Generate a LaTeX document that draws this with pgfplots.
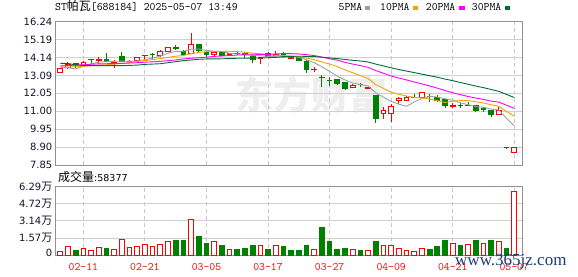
\documentclass[border=0pt]{standalone}
\usepackage{pgfplots}
\usepackage{pgfplotstable}
\pgfplotsset{compat=1.18}
\usepackage{fontspec}
\setmainfont{DejaVu Sans}
\newfontfamily\cjk{Noto Sans CJK SC}
\newfontfamily\lserif{Liberation Serif}
\definecolor{kred}{RGB}{255,0,0}
\definecolor{kgreen}{RGB}{0,128,0}
\definecolor{maA}{RGB}{160,160,160}
\definecolor{maB}{RGB}{240,165,0}
\definecolor{maC}{RGB}{255,0,255}
\definecolor{maD}{RGB}{0,110,50}
\definecolor{gridc}{RGB}{208,208,208}
\definecolor{vgridc}{RGB}{200,200,200}
\definecolor{framec}{RGB}{145,145,145}
\definecolor{tickc}{RGB}{20,20,40}
\definecolor{wm}{RGB}{238,238,238}
\definecolor{wmblue}{RGB}{30,60,120}
% candles: index, open, high, low, close
\pgfplotstableread{
i O H L C
0 13.25 13.52 13.22 13.50
1 13.55 13.90 13.47 13.75
3 13.66 13.95 13.60 13.86
5 13.94 14.15 13.76 14.01
7 13.82 14.00 13.55 13.85
9 13.90 14.00 13.80 13.93
10 13.96 14.17 13.93 14.13
11 14.25 14.28 14.00 14.27
13 14.25 14.60 14.15 14.52
14 14.48 14.78 14.45 14.72
17 14.39 15.60 14.37 14.88
20 14.30 14.52 14.25 14.43
22 14.33 14.43 14.26 14.36
26 14.06 14.15 13.78 14.13
28 14.28 14.52 14.17 14.31
30 14.10 14.17 14.05 14.13
33 13.44 13.57 13.31 13.46
38 12.38 12.60 12.33 12.53
40 12.33 12.42 12.30 12.40
42 10.85 11.23 10.52 11.07
43 10.88 11.40 10.38 11.30
44 11.60 11.85 11.42 11.75
45 11.62 11.87 11.58 11.80
47 11.81 12.13 11.75 12.08
51 11.30 11.46 11.17 11.33
57 10.82 11.23 10.78 11.07
59 8.60 8.89 8.59 8.89
}\redK
\pgfplotstableread{
i O H L C
2 13.78 13.85 13.55 13.74
4 14.02 14.03 13.75 14.00
6 14.04 14.39 13.88 13.90
8 14.18 14.48 13.88 13.90
12 14.33 14.40 14.08 14.30
15 14.75 14.88 14.56 14.68
16 14.52 14.58 14.25 14.34
18 14.88 14.90 14.45 14.58
19 14.43 14.55 14.20 14.33
21 14.48 14.50 14.22 14.25
23 14.40 14.48 14.27 14.37
24 14.38 14.45 14.10 14.33
25 14.18 14.22 13.84 14.00
27 14.39 14.45 14.10 14.20
29 14.40 14.45 14.10 14.20
31 14.15 14.17 13.95 13.98
32 13.90 14.00 13.25 13.45
34 13.00 13.10 12.40 12.97
35 12.82 13.02 12.49 12.78
36 12.84 12.85 12.55 12.60
37 12.68 12.70 12.24 12.35
39 12.57 12.65 12.43 12.54
41 11.89 11.92 10.32 10.55
46 11.83 12.00 11.79 11.80
48 11.88 12.00 11.56 11.85
49 11.80 11.95 11.56 11.60
50 11.66 11.70 11.20 11.33
52 11.36 11.50 11.20 11.33
53 11.34 11.55 11.30 11.31
54 11.36 11.38 10.93 11.07
55 11.13 11.25 10.98 11.10
56 11.03 11.05 10.68 10.78
58 8.87 8.87 8.85 8.85
}\greenK
\pgfplotsset{kaxis/.style={
  scale only axis, width=466.8pt, xmin=-0.62, xmax=60.04,
  axis line style={draw=framec, line width=1pt},
  major tick length=0pt,
  xtick={3,11,19,27,35,43,51,59},
  xmajorgrids, ymajorgrids,
  x grid style={draw=vgridc, dash pattern=on 4pt off 3pt, line width=0.9pt},
  y grid style={draw=gridc, line width=0.9pt},
  yticklabel style={font=\fontsize{10}{12}\selectfont, text=tickc, anchor=base east,
    inner sep=0pt, xshift=-3pt, yshift=-3.65pt},
},
ovl/.style={scale only axis, width=466.8pt, height=143.3pt, at={(55.5pt,111pt)},
  anchor=south west, xmin=-0.62, xmax=60.04, ymin=7.85, ymax=16.24, hide axis}}
\begin{document}
\begin{tikzpicture}
\path[use as bounding box] (0,0) rectangle (578pt,276pt);
\node[anchor=west, inner sep=0pt, text=wm, font=\cjk\bfseries\fontsize{38}{38}\selectfont] at (235pt,181pt) {东方财富};

% price panel: frame, grid, wicks
\begin{axis}[kaxis, at={(55.5pt,111pt)}, anchor=south west, height=143.3pt,
  ymin=7.85, ymax=16.24, xticklabels={},
  ytick={7.85,8.90,9.95,11.00,12.05,13.09,14.14,15.19,16.24},
  yticklabels={7.85,8.90,9.95,11.00,12.05,13.09,14.14,15.19,16.24}]
\addplot[draw=none, mark=none, error bars/.cd, y dir=plus, y explicit, error mark=none,
  error bar style={draw=kred, line width=1pt}]
  table[x=i, y=L, y error expr=\thisrow{H}-\thisrow{L}] {\redK};
\addplot[draw=none, mark=none, error bars/.cd, y dir=plus, y explicit, error mark=none,
  error bar style={draw=kgreen, line width=1pt}]
  table[x=i, y=L, y error expr=\thisrow{H}-\thisrow{L}] {\greenK};
\end{axis}
% red (hollow) bodies
\begin{axis}[ovl, ybar stacked, bar width=4.7pt]
\addplot[draw=none, fill=none] table[x=i, y=O] {\redK};
\addplot[draw=kred, fill=white, line width=1pt] table[x=i, y expr=\thisrow{C}-\thisrow{O}] {\redK};
\end{axis}
% green (filled) bodies
\begin{axis}[ovl, ybar stacked, bar width=4.7pt]
\addplot[draw=none, fill=none] table[x=i, y=C] {\greenK};
\addplot[draw=kgreen, fill=kgreen, line width=1pt] table[x=i, y expr=\thisrow{O}-\thisrow{C}] {\greenK};
\end{axis}
% moving averages
\begin{axis}[ovl]
\addplot[maA, line width=0.9pt] coordinates {(0,13.59)(1,13.55)(2,13.47)(3,13.63)(4,13.77)(5,13.87)(6,13.90)(7,13.92)(8,13.93)(9,13.92)(10,13.94)(11,14.02)(12,14.11)(13,14.23)(14,14.39)(15,14.50)(16,14.51)(17,14.63)(18,14.64)(19,14.56)(20,14.51)(21,14.49)(22,14.39)(23,14.35)(24,14.35)(25,14.26)(26,14.24)(27,14.21)(28,14.19)(29,14.17)(30,14.19)(31,14.16)(32,14.01)(33,13.84)(34,13.60)(35,13.33)(36,13.05)(37,12.83)(38,12.65)(39,12.56)(40,12.48)(41,12.07)(42,11.82)(43,11.57)(44,11.41)(45,11.29)(46,11.54)(47,11.75)(48,11.86)(49,11.83)(50,11.73)(51,11.64)(52,11.49)(53,11.38)(54,11.27)(55,11.23)(56,11.12)(57,11.07)(58,10.57)(59,10.14)};
\addplot[maB, line width=0.9pt] coordinates {(0,13.58)(1,13.58)(2,13.60)(3,13.62)(4,13.66)(5,13.70)(6,13.72)(7,13.76)(8,13.80)(9,13.84)(10,13.91)(11,13.96)(12,14.02)(13,14.08)(14,14.15)(15,14.22)(16,14.26)(17,14.37)(18,14.44)(19,14.48)(20,14.51)(21,14.50)(22,14.51)(23,14.49)(24,14.46)(25,14.39)(26,14.37)(27,14.30)(28,14.27)(29,14.26)(30,14.23)(31,14.20)(32,14.11)(33,14.02)(34,13.88)(35,13.76)(36,13.61)(37,13.42)(38,13.25)(39,13.08)(40,12.91)(41,12.56)(42,12.33)(43,12.11)(44,11.99)(45,11.89)(46,11.81)(47,11.78)(48,11.71)(49,11.62)(50,11.51)(51,11.59)(52,11.62)(53,11.62)(54,11.55)(55,11.48)(56,11.38)(57,11.28)(58,10.98)(59,10.71)};
\addplot[maC, line width=0.9pt] coordinates {(0,13.65)(1,13.67)(2,13.70)(3,13.72)(4,13.75)(5,13.77)(6,13.78)(7,13.79)(8,13.80)(9,13.82)(10,13.84)(11,13.87)(12,13.89)(13,13.92)(14,13.96)(15,14.00)(16,14.06)(17,14.10)(18,14.13)(19,14.16)(20,14.21)(21,14.23)(22,14.26)(23,14.29)(24,14.30)(25,14.30)(26,14.32)(27,14.33)(28,14.35)(29,14.37)(30,14.37)(31,14.35)(32,14.31)(33,14.26)(34,14.17)(35,14.07)(36,13.99)(37,13.86)(38,13.76)(39,13.67)(40,13.57)(41,13.38)(42,13.22)(43,13.06)(44,12.94)(45,12.83)(46,12.71)(47,12.60)(48,12.48)(49,12.35)(50,12.21)(51,12.08)(52,11.97)(53,11.86)(54,11.77)(55,11.69)(56,11.59)(57,11.53)(58,11.35)(59,11.16)};
\addplot[maD, line width=0.9pt] coordinates {(0,13.80)(1,13.80)(2,13.70)(3,13.68)(4,13.67)(5,13.67)(6,13.67)(7,13.67)(8,13.67)(9,13.68)(10,13.70)(11,13.74)(12,13.76)(13,13.78)(14,13.84)(15,13.90)(16,13.96)(17,14.00)(18,14.04)(19,14.06)(20,14.06)(21,14.07)(22,14.08)(23,14.10)(24,14.10)(25,14.11)(26,14.12)(27,14.13)(28,14.15)(29,14.19)(30,14.21)(31,14.22)(32,14.21)(33,14.20)(34,14.16)(35,14.12)(36,14.08)(37,14.03)(38,13.98)(39,13.94)(40,13.88)(41,13.76)(42,13.65)(43,13.54)(44,13.44)(45,13.35)(46,13.26)(47,13.17)(48,13.08)(49,12.99)(50,12.88)(51,12.79)(52,12.68)(53,12.58)(54,12.47)(55,12.38)(56,12.27)(57,12.16)(58,11.98)(59,11.80)};
\end{axis}

% volume panel
\begin{axis}[kaxis, at={(55.5pt,21pt)}, anchor=south west, height=68.3pt,
  ymin=0, ymax=6.29,
  ytick={0,1.57,3.14,4.72,6.29},
  yticklabels={\raisebox{2.5pt}{0},{1.57\cjk\fontsize{11}{12}\selectfont 万},{3.14\cjk\fontsize{11}{12}\selectfont 万},{4.72\cjk\fontsize{11}{12}\selectfont 万},{6.29\cjk\fontsize{11}{12}\selectfont 万}},
  xticklabels={02-11,02-21,03-05,03-17,03-27,04-09,04-21,05-07},
  xticklabel style={font=\ttfamily\fontsize{11.4}{12}\selectfont, text=kred, anchor=base, inner sep=0pt, yshift=-15pt}]
\addplot[ybar, bar width=4.7pt, bar shift=0pt, draw=kred, fill=white, line width=1pt] coordinates {
(0,0.28)(1,0.80)(3,0.61)(4,0.43)(5,0.71)(7,0.52)(8,1.44)(9,0.71)(10,0.80)(11,0.98)(12,0.80)(13,1.01)(14,1.20)(17,3.28)(20,1.20)(22,0.52)(26,0.83)(28,0.83)(33,0.55)(38,0.52)(40,0.37)(42,0.83)(43,0.92)(44,0.64)(45,0.37)(46,0.28)(47,0.64)(51,1.10)(53,1.01)(55,1.10)(57,1.20)(59,5.84)};
\addplot[ybar, bar width=4.7pt, bar shift=0pt, draw=kgreen, fill=kgreen, line width=1pt] coordinates {
(2,0.46)(6,0.64)(15,1.29)(16,1.38)(18,1.66)(19,1.10)(21,0.83)(23,0.55)(24,0.64)(25,0.83)(27,0.55)(29,0.74)(30,0.46)(31,0.46)(32,0.92)(34,2.49)(35,1.20)(36,0.55)(37,0.64)(39,0.46)(41,1.20)(48,0.55)(49,0.74)(50,1.29)(52,0.83)(54,1.38)(56,1.29)(58,0.64)};
\end{axis}

% title
\node[anchor=base west, inner sep=0pt] at (55pt,265pt) {{\ttfamily\fontsize{11.4}{12}\selectfont ST}{\cjk\fontsize{12}{12}\selectfont 帕瓦}{\ttfamily\fontsize{11.4}{12}\selectfont [688184] 2025-05-07 13:49}};
% legend
\node[anchor=base west, inner sep=0pt, font=\ttfamily\fontsize{11.4}{12}\selectfont] at (338.5pt,265pt) {5PMA};
\fill[maA] (364.5pt,266pt) rectangle (370pt,270pt);
\node[anchor=base west, inner sep=0pt, font=\ttfamily\fontsize{11.4}{12}\selectfont] at (380pt,265pt) {10PMA};
\fill[maB] (412.5pt,266pt) rectangle (418pt,270pt);
\node[anchor=base west, inner sep=0pt, font=\ttfamily\fontsize{11.4}{12}\selectfont] at (425.7pt,265pt) {20PMA};
\fill[maC] (459pt,266pt) rectangle (464.5pt,270pt);
\node[anchor=base west, inner sep=0pt, font=\ttfamily\fontsize{11.4}{12}\selectfont] at (471.7pt,265pt) {30PMA};
\fill[maD] (504.5pt,266pt) rectangle (510pt,270pt);
% volume caption
\node[anchor=base west, inner sep=0pt] at (58pt,94.5pt) {{\cjk\fontsize{12}{12}\selectfont 成交量}{\fontsize{9.5}{12}\selectfont :58377}};
% site watermark
\node[anchor=base west, inner sep=0pt, text=wmblue, font=\lserif\fontsize{17}{17}\selectfont] at (455pt,10.3pt) {www.365jz.com};
\end{tikzpicture}
\end{document}
